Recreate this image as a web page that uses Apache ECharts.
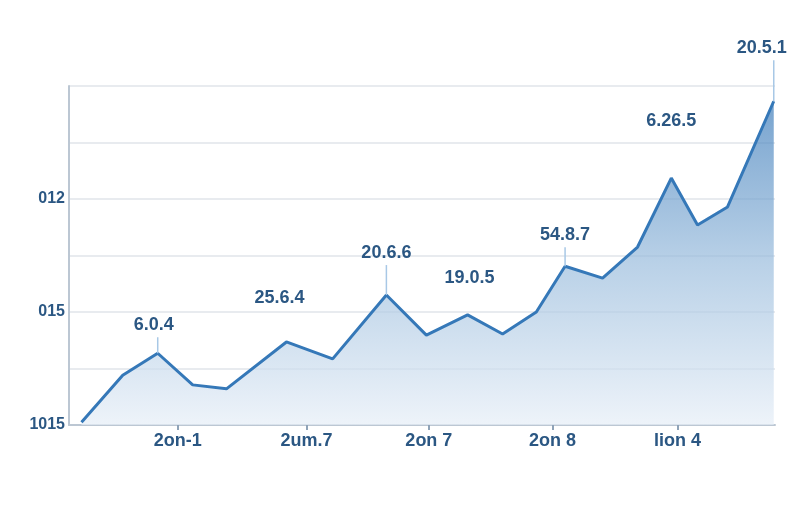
<!DOCTYPE html>
<html>
<head>
<meta charset="utf-8">
<script src="https://cdn.jsdelivr.net/npm/echarts@6/dist/echarts.min.js"></script>
<style>
  html, body { margin: 0; padding: 0; background: #fff; }
  #chart { width: 800px; height: 512px; }
</style>
</head>
<body>
<div id="chart"></div>
<script>
// x position of each point (in label periods), y value (in grid steps)
const xValues = [0.1, 0.43, 0.71, 0.99, 1.26, 1.74, 2.11, 2.54, 2.86, 3.19, 3.47, 3.74, 3.97, 4.27, 4.55, 4.82, 5.03, 5.27, 5.64]
const yValues = [0.05, 0.88, 1.27, 0.71, 0.64, 1.47, 1.17, 2.3, 1.59, 1.95, 1.61, 2.0, 2.81, 2.6, 3.15, 4.37, 3.54, 3.86, 5.73]

const xTickValues = [0.87, 1.9, 2.88, 3.87, 4.87]
const xTickLabels = ['2on-1', '2um.7', '2on 7', '2on 8', 'lion 4']
const yTickLabels = ['1015', '', '015', '', '012', '', '']

const noteIndex = [2, 5, 7, 9, 12, 15, 18]
const noteText = ['6.0.4', '25.6.4', '20.6.6', '19.0.5', '54.8.7', '6.26.5', '20.5.1']

// label placement (px) - not data
const noteGap = [16, 32, 30, 25, 19, 45, 41]
const noteLeader = [true, false, true, false, true, false, true]
const noteShift = [-4, -7, 0, 2, 0, 0, -12]

const chart = echarts.init(document.getElementById('chart'))

const lineData = xValues.map((x, i) => [x, yValues[i]])

const notes = noteIndex.map((idx, i) => {
  return {
    name: noteText[i],
    coord: [xValues[idx], yValues[idx]],
    symbol: 'rect',
    symbolSize: [1.5, noteGap[i]],
    symbolOffset: [0, -noteGap[i] / 2],
    itemStyle: { color: noteLeader[i] ? '#a8c8e6' : 'rgba(0,0,0,0)' },
    label: { offset: [noteShift[i], 0] }
  }
})

const textStyle = {
  color: '#2b5783',
  fontWeight: 'bold',
  fontFamily: 'Liberation Sans, Arial, sans-serif'
}

chart.setOption({
  animation: false,
  backgroundColor: '#ffffff',
  grid: {
    left: 69,
    right: 25,
    top: 86,
    bottom: 87
  },
  xAxis: {
    type: 'value',
    min: 0,
    max: 5.65,
    axisLine: { show: true, lineStyle: { color: '#bcc7d3', width: 2 } },
    axisTick: {
      show: true,
      customValues: xTickValues,
      length: 5,
      lineStyle: { color: '#8fa3b8', width: 2 }
    },
    axisLabel: Object.assign({
      customValues: xTickValues,
      formatter: function (v) {
        const i = xTickValues.indexOf(v)
        return i >= 0 ? xTickLabels[i] : ''
      },
      fontSize: 18,
      margin: 7
    }, textStyle),
    splitLine: { show: false }
  },
  yAxis: {
    type: 'value',
    min: 0,
    max: 6,
    interval: 1,
    axisLine: { show: true, lineStyle: { color: '#bcc7d3', width: 2 } },
    axisTick: { show: false },
    axisLabel: Object.assign({
      formatter: function (v) {
        return yTickLabels[Math.round(v)] || ''
      },
      fontSize: 16,
      margin: 4
    }, textStyle),
    splitLine: { show: true, lineStyle: { color: '#e8ebef', width: 2 } }
  },
  series: [
    {
      type: 'line',
      data: lineData,
      symbol: 'none',
      lineStyle: { color: '#3578b8', width: 3 },
      areaStyle: {
        color: new echarts.graphic.LinearGradient(0, 0, 0, 1, [
          { offset: 0, color: '#3d7cba' },
          { offset: 0.5, color: '#9bbddd' },
          { offset: 1, color: '#e6eef7' }
        ])
      },
      markPoint: {
        silent: true,
        label: Object.assign({
          show: true,
          position: 'top',
          distance: 3,
          formatter: '{b}',
          fontSize: 18
        }, textStyle),
        data: notes
      }
    }
  ]
})
</script>
</body>
</html>
